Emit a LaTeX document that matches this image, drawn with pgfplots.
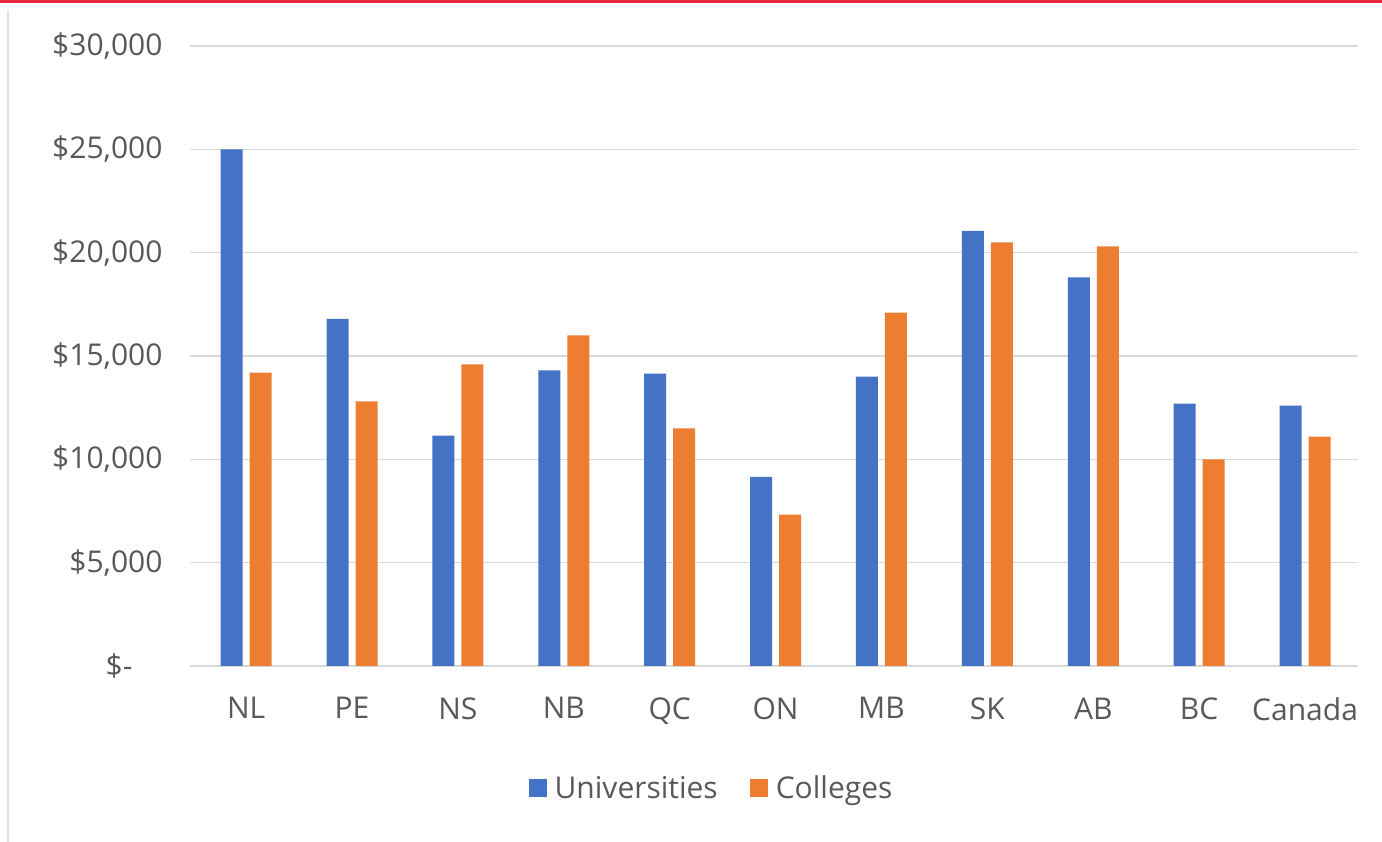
\documentclass[border=0pt]{standalone}
\usepackage{pgfplots}
\pgfplotsset{compat=1.18}
\usepackage{fontspec}
\setmainfont{Open Sans}
\definecolor{uni}{HTML}{4472C4}
\definecolor{col}{HTML}{ED7D31}
\definecolor{txt}{HTML}{595959}
\definecolor{gridc}{HTML}{D9D9D9}
\definecolor{topred}{HTML}{E8283A}
\begin{document}
\begin{tikzpicture}[font=\fontsize{30bp}{36bp}\selectfont]
\useasboundingbox (0,0) rectangle (1382bp,842bp);
\fill[white] (0,0) rectangle (1382bp,842bp);
\draw[topred, line width=3bp] (0,840bp) -- (1382bp,840bp);
\draw[gridc!80!white, line width=1.5bp] (8bp,0) -- (8bp,832bp);
\begin{axis}[
  at={(190bp,176bp)}, anchor=south west, scale only axis,
  width=1168bp, height=620bp,
  ybar=7bp, bar width=22bp,
  xmin=-0.53, xmax=10.5, ymin=0, ymax=30000,
  xtick={0,1,2,3,4,5,6,7,8,9,10},
  xticklabels={NL,PE,NS,NB,QC,ON,MB,SK,AB,BC,Canada},
  ytick={0,5000,10000,15000,20000,25000,30000},
  yticklabels={{\$-\kern30bp},{\$5,000},{\$10,000},{\$15,000},{\$20,000},{\$25,000},{\$30,000}},
  axis line style={draw=none},
  tick style={draw=none},
  major tick length=0pt,
  ymajorgrids,
  grid style={gridc, line width=1.5bp},
  tick label style={font=\fontsize{30bp}{36bp}\selectfont, text=txt},
  yticklabel style={xshift=-24bp},
  xticklabel style={yshift=-28bp},
  scaled y ticks=false,
  clip=false,
  legend columns=2,
  legend style={at={(0.4465,-0.197)}, anchor=center, draw=none, fill=none,
    font=\fontsize{30bp}{36bp}\selectfont, text=txt,
    /tikz/every even column/.append style={column sep=30bp}},
]
\addplot[fill=uni, draw=none, legend image code/.code={\fill[uni] (0bp,-9bp) rectangle (18bp,9bp); \path (24bp,0bp);}]
coordinates {(0,25000) (1,16800) (2,11150) (3,14300) (4,14150) (5,9150) (6,14000) (7,21050) (8,18800) (9,12700) (10,12600)};
\addplot[fill=col, draw=none, legend image code/.code={\fill[col] (0bp,-9bp) rectangle (18bp,9bp); \path (24bp,0bp);}]
coordinates {(0,14200) (1,12800) (2,14600) (3,16000) (4,11500) (5,7330) (6,17100) (7,20500) (8,20300) (9,10000) (10,11100)};
\legend{Universities,Colleges}
\end{axis}
\end{tikzpicture}
\end{document}
